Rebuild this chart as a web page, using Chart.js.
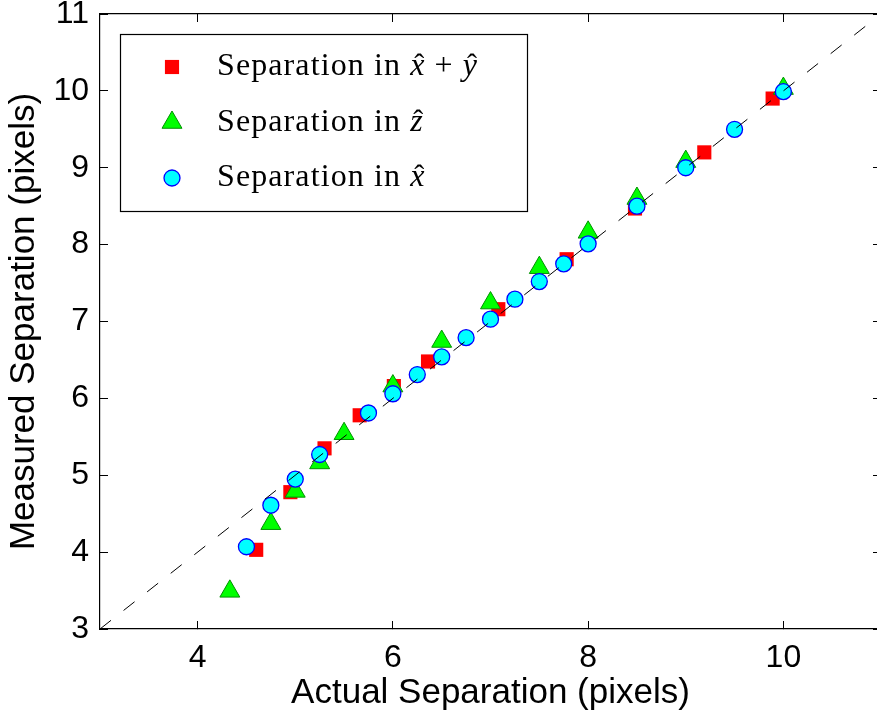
<!DOCTYPE html>
<html>
<head>
<meta charset="utf-8">
<script src="https://cdn.jsdelivr.net/npm/chart.js@4.4.0/dist/chart.umd.min.js"></script>
<style>
  html, body { margin: 0; padding: 0; overflow: hidden; background: #ffffff; }
  canvas { display: block; }
</style>
</head>
<body>
<canvas id="chart" width="884" height="717"></canvas>
<script>
// Axis ticks
const xTicks = [4, 6, 8, 10];
const yTicks = [3, 4, 5, 6, 7, 8, 9, 10, 11];
const axisRange = [3, 11];

// Separation along x+y (red squares)
const xyActual   = [4.60, 4.95, 5.30, 5.66, 6.01, 6.36, 7.08, 7.78, 8.48, 9.19, 9.89];
const xyMeasured = [4.03, 4.78, 5.35, 5.78, 6.16, 6.48, 7.16, 7.81, 8.47, 9.20, 9.90];

// Separation along z (green triangles)
const zActual   = [4.33, 4.75, 5.00, 5.25, 5.50, 6.00, 6.50, 7.00, 7.50, 8.00, 8.50, 9.00, 10.00];
const zMeasured = [3.49, 4.37, 4.79, 5.16, 5.54, 6.16, 6.74, 7.24, 7.70, 8.16, 8.60, 9.08, 10.03];

// Separation along x (cyan circles)
const xActual   = [4.50, 4.75, 5.00, 5.25, 5.75, 6.00, 6.25, 6.50, 6.75, 7.00, 7.25, 7.50, 7.75, 8.00, 8.50, 9.00, 9.50, 10.00];
const xMeasured = [4.07, 4.61, 4.95, 5.27, 5.81, 6.06, 6.31, 6.54, 6.79, 7.03, 7.29, 7.52, 7.75, 8.01, 8.50, 9.00, 9.50, 9.99];

const toPoints = (xs, ys) => xs.map((v, i) => ({ x: v, y: ys[i] }));

const SANS = "'Liberation Sans', Arial, Helvetica, sans-serif";
const SERIF = "'Liberation Serif', 'Times New Roman', serif";

const squareStyle   = { pointStyle: 'rect',     radius: 10,   fill: '#ff0000', stroke: '#ff0000', borderWidth: 0 };
const triangleStyle = { pointStyle: 'triangle', radius: 11.5, fill: '#00ff00', stroke: '#009000', borderWidth: 1 };
const circleStyle   = { pointStyle: 'circle',   radius: 8,    fill: '#00ffff', stroke: '#0000ff', borderWidth: 1.3 };

function markerDataset(label, pts, st, order) {
  return {
    label, data: pts, order,
    pointStyle: st.pointStyle, pointRadius: st.radius, pointHoverRadius: st.radius,
    backgroundColor: st.fill, borderColor: st.stroke, borderWidth: st.borderWidth,
    showLine: false
  };
}

// Legend entries: label pieces (plain / italic with hat) and marker style
const legendRows = [
  { style: squareStyle,   parts: [['Separation in ', false], ['x', true], [' + ', false], ['y', true]] },
  { style: triangleStyle, parts: [['Separation in ', false], ['z', true]] },
  { style: circleStyle,   parts: [['Separation in ', false], ['x', true]] }
];

const boxedLegend = {
  id: 'boxedLegend',
  afterDatasetsDraw(chart) {
    const ctx = chart.ctx;
    const left = 120.5, top = 34.5, w = 407, h = 177;
    ctx.save();
    ctx.fillStyle = '#ffffff';
    ctx.fillRect(left, top, w, h);
    ctx.strokeStyle = '#000000';
    ctx.lineWidth = 1.2;
    ctx.strokeRect(left, top, w, h);
    const rowY = [67, 122.5, 178];
    legendRows.forEach((row, i) => {
      const st = row.style;
      ctx.fillStyle = st.fill;
      ctx.strokeStyle = st.stroke;
      ctx.lineWidth = st.borderWidth;
      Chart.helpers.drawPoint(ctx, { pointStyle: st.pointStyle, radius: st.radius, rotation: 0, borderWidth: st.borderWidth }, 172, rowY[i]);
      let x = 217;
      const base = rowY[i] + 8;
      ctx.fillStyle = '#000000';
      ctx.textBaseline = 'alphabetic';
      ctx.textAlign = 'left';
      if ('letterSpacing' in ctx) ctx.letterSpacing = '1.1px';
      row.parts.forEach(([txt, italic]) => {
        const font = (italic ? 'italic ' : '') + '32px ' + SERIF;
        ctx.font = font;
        ctx.fillText(txt, x, base);
        const tw = ctx.measureText(txt).width;
        if (italic) {
          ctx.font = '30px ' + SERIF;
          const hw = ctx.measureText('\u02C6').width;
          ctx.fillText('\u02C6', x + (tw - hw) / 2 + 2, base - 1);
          ctx.font = font;
        }
        x += tw;
      });
      if ('letterSpacing' in ctx) ctx.letterSpacing = '0px';
    });
    ctx.restore();
  }
};

const setTicks = values => axis => { axis.ticks = values.map(v => ({ value: v })); };
const inwardGrid = { drawOnChartArea: false, drawTicks: true, tickLength: -8, color: '#000000', lineWidth: 1 };
const frameBorder = { display: true, color: '#000000', width: 1.2 };

new Chart(document.getElementById('chart'), {
  type: 'scatter',
  data: {
    datasets: [
      {
        type: 'line', label: 'y = x',
        data: toPoints(axisRange, axisRange),
        borderColor: '#000000', borderWidth: 1, borderDash: [14, 16],
        pointRadius: 0, pointHoverRadius: 0, fill: false, order: 0
      },
      markerDataset('Separation in x+y', toPoints(xyActual, xyMeasured), squareStyle, 3),
      markerDataset('Separation in z', toPoints(zActual, zMeasured), triangleStyle, 2),
      markerDataset('Separation in x', toPoints(xActual, xMeasured), circleStyle, 1)
    ]
  },
  options: {
    responsive: false,
    animation: false,
    devicePixelRatio: 1,
    layout: { autoPadding: false, padding: { top: 14, right: 3, left: 0, bottom: 0 } },
    plugins: { legend: { display: false }, tooltip: { enabled: false } },
    scales: {
      x: {
        type: 'linear', position: 'bottom', min: axisRange[0], max: axisRange[1],
        afterBuildTicks: setTicks(xTicks),
        grid: inwardGrid, border: frameBorder,
        ticks: { color: '#000000', font: { family: SANS, size: 32 }, padding: 18, maxRotation: 0, autoSkip: false },
        title: { display: true, text: 'Actual Separation (pixels)', color: '#000000', font: { family: SANS, size: 35 }, padding: { top: 0, bottom: 3 } },
        afterFit: s => { s.height = 88; s.paddingLeft = 0; s.paddingRight = 0; }
      },
      y: {
        type: 'linear', position: 'left', min: axisRange[0], max: axisRange[1],
        afterBuildTicks: setTicks(yTicks),
        grid: inwardGrid, border: frameBorder,
        ticks: { color: '#000000', font: { family: SANS, size: 32 }, padding: 19, autoSkip: false },
        title: { display: true, text: 'Measured Separation (pixels)', color: '#000000', font: { family: SANS, size: 35 }, padding: { top: 3, bottom: 0 } },
        afterFit: s => { s.width = 100; s.paddingTop = 0; s.paddingBottom = 0; }
      },
      x2: {
        type: 'linear', position: 'top', min: axisRange[0], max: axisRange[1],
        afterBuildTicks: setTicks(xTicks),
        grid: inwardGrid, border: frameBorder,
        ticks: { display: false },
        afterFit: s => { s.height = 0; s.paddingLeft = 0; s.paddingRight = 0; }
      },
      y2: {
        type: 'linear', position: 'right', min: axisRange[0], max: axisRange[1],
        afterBuildTicks: setTicks(yTicks),
        grid: inwardGrid, border: frameBorder,
        ticks: { display: false },
        afterFit: s => { s.width = 0; s.paddingTop = 0; s.paddingBottom = 0; }
      }
    }
  },
  plugins: [boxedLegend]
});
</script>
</body>
</html>
